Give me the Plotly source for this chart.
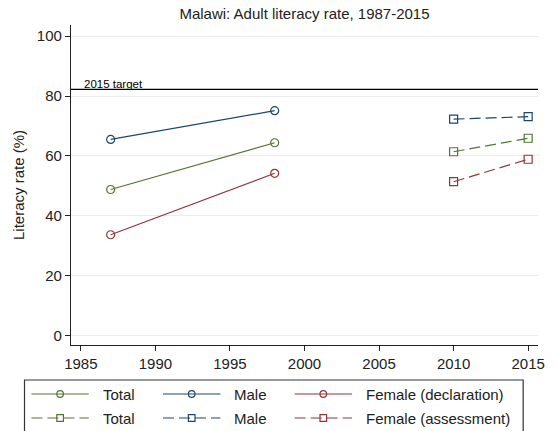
import plotly.graph_objects as go

# Adult literacy rate, Malawi
years_decl = [1987, 1998]
total_decl = [48.8, 64.4]
male_decl = [65.5, 75.1]
female_decl = [33.7, 54.2]

years_assess = [2010, 2015]
total_assess = [61.4, 65.9]
male_assess = [72.3, 73.1]
female_assess = [51.4, 58.9]

target_2015 = 82.2

legend_labels = [["Total", "Male", "Female (declaration)"],
                 ["Total", "Male", "Female (assessment)"]]

GREEN = "#55752f"
NAVY = "#1a476f"
MAROON = "#90353b"
TEXT = "#222222"
FONT = "Liberation Sans, Arial, sans-serif"
DASH = "11px,5px"

W, H = 557, 431
L, R, T, B = 71, 14, 25, 86
PW, PH = W - L - R, H - T - B


def px(x):
    return (x - L) / PW


def py(y):
    return (H - B - y) / PH


fig = go.Figure()


def add_series(x, y, name, color, dash, symbol):
    fig.add_trace(go.Scatter(
        x=x, y=y, name=name, mode="lines+markers", showlegend=False,
        line=dict(color=color, width=1.2, dash=dash),
        marker=dict(symbol=symbol, size=8, color=color, line=dict(color=color, width=1.2)),
    ))


series = [
    (years_decl, total_decl, GREEN, "solid", "circle-open"),
    (years_decl, male_decl, NAVY, "solid", "circle-open"),
    (years_decl, female_decl, MAROON, "solid", "circle-open"),
    (years_assess, total_assess, GREEN, DASH, "square-open"),
    (years_assess, male_assess, NAVY, DASH, "square-open"),
    (years_assess, female_assess, MAROON, DASH, "square-open"),
]
names = legend_labels[0] + legend_labels[1]
for (x, y, c, d, s), n in zip(series, names):
    add_series(x, y, n, c, d, s)

shapes = []
annotations = []

# 2015 target reference line
shapes.append(dict(type="line", xref="paper", yref="y", x0=0, x1=1,
                   y0=target_2015, y1=target_2015, line=dict(color="black", width=1.3)))
annotations.append(dict(x=px(82), xref="paper", y=target_2015, yref="y",
                        text="2015 target", showarrow=False, xanchor="left", yanchor="bottom",
                        font=dict(size=11.5, color="black", family=FONT), yshift=-3))

# Legend drawn beneath the plot: box, key lines, key markers and labels
shapes.append(dict(type="rect", xref="paper", yref="paper",
                   x0=px(24), x1=px(528), y0=py(380), y1=py(431.5),
                   line=dict(color="#333333", width=1.2)))
col_x = [31, 164, 297]
row_y = [394, 418]
colors = [GREEN, NAVY, MAROON]
for r, yrow in enumerate(row_y):
    for c, xcol in enumerate(col_x):
        color = colors[c]
        shapes.append(dict(type="line", xref="paper", yref="paper",
                           x0=px(xcol), x1=px(xcol + 58), y0=py(yrow), y1=py(yrow),
                           line=dict(color=color, width=1.2, dash="solid" if r == 0 else DASH)))
        shapes.append(dict(type="circle" if r == 0 else "rect",
                           xref="paper", yref="paper", xsizemode="pixel", ysizemode="pixel",
                           xanchor=px(xcol + 29), yanchor=py(yrow),
                           x0=-3.3, x1=3.3, y0=-3.3, y1=3.3,
                           line=dict(color=color, width=1.2)))
        annotations.append(dict(x=px(xcol + 70), y=py(yrow), xref="paper", yref="paper",
                                text=legend_labels[r][c], showarrow=False,
                                xanchor="left", yanchor="middle",
                                font=dict(size=15, color=TEXT, family=FONT)))

fig.update_layout(
    width=W, height=H,
    margin=dict(l=L, r=R, t=T, b=B),
    paper_bgcolor="white", plot_bgcolor="white",
    font=dict(family=FONT, size=15, color=TEXT),
    title=dict(text="Malawi: Adult literacy rate, 1987-2015", x=px(307), xref="paper",
               xanchor="center", y=1 - 14 / H, yanchor="middle",
               font=dict(size=15, color=TEXT)),
    showlegend=False,
    shapes=shapes,
    annotations=annotations,
    xaxis=dict(range=[1984.34, 2015.66], tickvals=[1985, 1990, 1995, 2000, 2005, 2010, 2015],
               showgrid=False, zeroline=False, showline=True, linecolor=TEXT, linewidth=1.2,
               ticks="outside", ticklen=5, tickcolor=TEXT, tickfont=dict(size=15)),
    yaxis=dict(range=[-3.1, 103.7], tickvals=[0, 20, 40, 60, 80, 100],
               title=dict(text="Literacy rate (%)", font=dict(size=15), standoff=8),
               showgrid=True, gridcolor="#ececec", gridwidth=1, zeroline=False,
               showline=True, linecolor=TEXT, linewidth=1.2,
               ticks="outside", ticklen=5, tickcolor=TEXT, tickfont=dict(size=15)),
)

fig.write_html("out.html")
